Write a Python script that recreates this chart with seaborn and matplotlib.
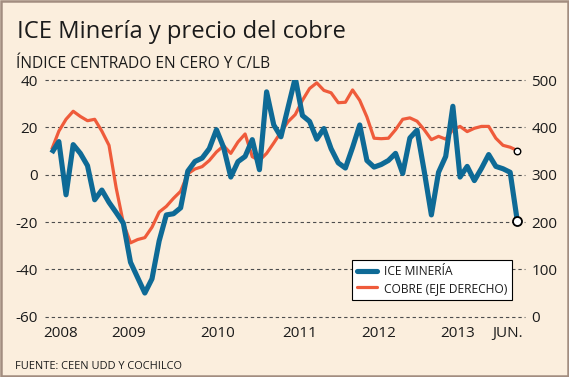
import matplotlib
matplotlib.use("Agg")
import numpy as np
import pandas as pd
import seaborn as sns
import matplotlib.pyplot as plt
from matplotlib.lines import Line2D
from matplotlib.patches import Rectangle

# ---------------- data ----------------
TITLE = "ICE Minería y precio del cobre"
SUBTITLE = "ÍNDICE CENTRADO EN CERO Y C/LB"
SOURCE = "FUENTE: CEEN UDD Y COCHILCO"
LEG_LABELS = ["ICE MINERÍA", "COBRE (EJE DERECHO)"]

# monthly index, Jan-2008 .. Jun-2013
months = list(range(66))

ice_mineria = [9.2, 14.0, -8.5, 12.7, 9.0, 3.8, -10.6, -6.5, -11.7, -16.0,
               -20.5, -37.0, -43.5, -50.0, -44.0, -28.0, -17.0, -16.5, -14.0, 1.5,
               5.6, 7.0, 11.0, 19.0, 11.5, -1.0, 5.5, 7.7, 14.8, 2.1,
               35.0, 21.0, 16.0, 28.5, 40.9, 25.0, 22.5, 15.0, 19.5, 11.0,
               5.0, 2.8, 11.5, 21.0, 6.0, 3.2, 4.3, 6.0, 9.0, 0.5,
               15.5, 18.8, 1.5, -17.0, 1.0, 7.7, 28.9, -1.0, 3.5, -2.5,
               2.7, 8.5, 3.5, 2.5, 1.0, -19.7]

cobre = [353, 392, 417, 434, 423, 414, 417, 392, 362, 272,
         198, 156, 163, 167, 189, 221, 233, 250, 265, 302,
         312, 317, 330, 348, 361, 345, 369, 386, 338, 330,
         345, 367, 390, 412, 427, 457, 482, 494, 478, 473,
         452, 453, 479, 457, 422, 377, 376, 377, 395, 417,
         420, 413, 395, 374, 381, 375, 395, 402, 391, 398,
         402, 402, 377, 362, 358, 351]

xtick_labels = ["2008", "2009", "2010", "2011", "2012", "2013", "JUN."]
left_ticks = [-60, -40, -20, 0, 20, 40]
right_ticks = [0, 100, 200, 300, 400, 500]

df = pd.DataFrame({"mes": months, "ice": ice_mineria, "cobre": cobre})

# ---------------- style / layout ----------------
W_PX, H_PX = 569, 377
BG = "#FBEEDD"
BLUE = "#0E6A96"
RED = "#EF5B3B"
TXT = "#1b1b1b"
GRID = "#4d4d4d"

# tick positions (month index) where the labels sit in the original
xtick_pos = [1.3, 10.8, 23.15, 34.6, 45.7, 56.7, 63.7]

sns.set_theme(style="white")
plt.rcParams["font.family"] = ["Open Sans", "DejaVu Sans"]

fig = plt.figure(figsize=(W_PX / 100, H_PX / 100), dpi=100, facecolor=BG)
renderer = fig.canvas.get_renderer()


def fitted_size(s, target_px, base=10.0, **kw):
    t = fig.text(0, 0, s, fontsize=base, **kw)
    w = t.get_window_extent(renderer).width
    t.remove()
    return base * target_px / w


ax_l, ax_r = 45 / W_PX, 525 / W_PX
ax_t, ax_b = 1 - 80 / H_PX, 1 - 316.7 / H_PX
ax = fig.add_axes([ax_l, ax_b, ax_r - ax_l, ax_t - ax_b])
ax2 = ax.twinx()
ax.set_zorder(ax2.get_zorder() + 1)
ax.patch.set_visible(False)
ax2.patch.set_visible(False)

# gridlines (on the lower axes)
for v in right_ticks:
    ax2.axhline(v, color=GRID, lw=0.8, ls=(0, (3, 2.6)), zorder=0.5, clip_on=False)

sns.lineplot(data=df, x="mes", y="cobre", ax=ax2, color=RED, lw=2.3, legend=False)
sns.lineplot(data=df, x="mes", y="ice", ax=ax, color=BLUE, lw=3.7, legend=False)
for a in (ax, ax2):
    for ln in a.lines:
        ln.set_solid_joinstyle("round")
        ln.set_solid_capstyle("butt")

last = df.tail(1)
sns.scatterplot(data=last, x="mes", y="cobre", ax=ax2, s=22, color="white",
                edgecolor="black", linewidth=1.0, zorder=6, clip_on=False, legend=False)
sns.scatterplot(data=last, x="mes", y="ice", ax=ax, s=42, color="white",
                edgecolor="black", linewidth=1.3, zorder=6, clip_on=False, legend=False)

ax.set_xlim(-0.935, 66.07)
ax.set_ylim(-60, 40)
ax2.set_ylim(0, 500)
ax.set_yticks(left_ticks)
ax.set_yticklabels([str(v) for v in left_ticks])
ax2.set_yticks(right_ticks)
ax2.set_yticklabels([str(v) for v in right_ticks])
ax.set_xticks(xtick_pos)
ax.set_xticklabels(xtick_labels)

for a in (ax, ax2):
    a.set_xlabel("")
    a.set_ylabel("")
    for s in a.spines.values():
        s.set_visible(False)
    a.grid(False)

ax.tick_params(axis="y", length=0, pad=5.2, labelsize=11, labelcolor=TXT)
ax2.tick_params(axis="y", length=0, pad=4.6, labelsize=11, labelcolor=TXT)
ax.tick_params(axis="x", length=0, pad=7.0, labelsize=11, labelcolor=TXT)

# legend
leg_fs = fitted_size(LEG_LABELS[1], 124)
handles = [Line2D([], [], color=BLUE, lw=3.7), Line2D([], [], color=RED, lw=2.3)]
leg = ax.legend(handles, LEG_LABELS, loc="upper left",
                bbox_to_anchor=(351.7 / W_PX, 1 - 260 / H_PX),
                bbox_transform=fig.transFigure, frameon=True, fancybox=False,
                edgecolor="black", facecolor="white", framealpha=1,
                fontsize=leg_fs, handlelength=1.65, handletextpad=0.6,
                borderpad=0.42, labelspacing=0.3, borderaxespad=0)
leg.get_frame().set_linewidth(0.8)
for t in leg.get_texts():
    t.set_color(TXT)
leg.set_zorder(10)

# titles and source
fig.text(16.7 / W_PX, 1 - 38.3 / H_PX, TITLE, fontsize=fitted_size(TITLE, 328),
         ha="left", va="baseline", color=TXT)
fig.text(16 / W_PX, 1 - 68.3 / H_PX, SUBTITLE, fontsize=fitted_size(SUBTITLE, 254),
         ha="left", va="baseline", color=TXT)
fig.text(15 / W_PX, 1 - 369 / H_PX, SOURCE, fontsize=fitted_size(SOURCE, 167),
         ha="left", va="baseline", color=TXT)

# frame around the graphic
fig.add_artist(Rectangle((1.25 / W_PX, 1.25 / H_PX), 1 - 2.5 / W_PX, 1 - 2.5 / H_PX,
                         transform=fig.transFigure, fill=False,
                         edgecolor="#A28D80", lw=1.8))

fig.savefig("out.png", dpi=100, facecolor=BG)
